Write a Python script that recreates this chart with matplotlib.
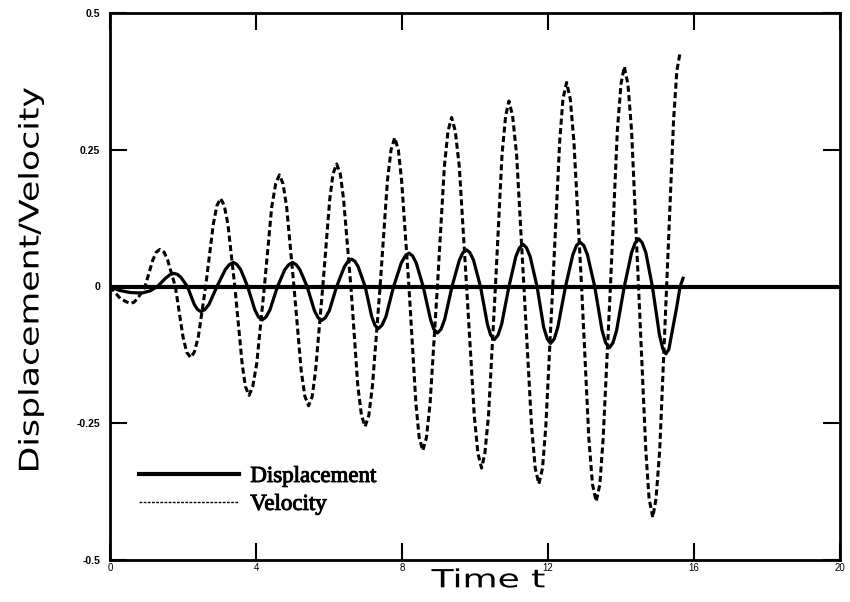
import matplotlib
matplotlib.use('Agg')
import matplotlib.pyplot as plt
import matplotlib.patheffects as pe
from matplotlib.lines import Line2D
from matplotlib.textpath import TextPath
from matplotlib.patches import PathPatch
from matplotlib.font_manager import FontProperties
from matplotlib.transforms import Affine2D, IdentityTransform

plt.rcParams['axes.unicode_minus'] = False

# displacement (extrema, zero crossings, shoulders)
disp_t = [0.00, 0.25, 0.55, 0.87, 1.10, 1.30, 1.52, 1.65, 1.76,
          1.85, 1.94, 2.12, 2.31, 2.40, 2.49,
          2.60, 2.71, 2.93, 3.16, 3.27, 3.38,
          3.48, 3.58, 3.77, 3.97, 4.07, 4.17,
          4.27, 4.38, 4.59, 4.79, 4.90, 5.00,
          5.10, 5.20, 5.40, 5.60, 5.70, 5.80,
          5.90, 6.01, 6.21, 6.42, 6.52, 6.62,
          6.71, 6.80, 6.99, 7.17, 7.26, 7.35,
          7.45, 7.56, 7.77, 7.98, 8.09, 8.19,
          8.29, 8.39, 8.58, 8.78, 8.87, 8.97,
          9.07, 9.17, 9.37, 9.57, 9.67, 9.77,
          9.86, 9.96, 10.15, 10.34, 10.43, 10.53,
          10.63, 10.73, 10.93, 11.12, 11.22, 11.32,
          11.41, 11.51, 11.70, 11.88, 11.98, 12.07,
          12.17, 12.27, 12.48, 12.68, 12.78, 12.88,
          12.98, 13.08, 13.28, 13.48, 13.58, 13.68,
          13.78, 13.88, 14.09, 14.29, 14.39, 14.49,
          14.58, 14.68, 14.86, 15.05, 15.14, 15.23,
          15.31, 15.38, 15.52, 15.62, 15.70]
disp_v = [0.000, -0.007, -0.011, -0.012, -0.008, 0.000, 0.015, 0.022, 0.024,
          0.022, 0.017, 0.000, -0.033, -0.042, -0.046,
          -0.042, -0.033, 0.000, 0.031, 0.040, 0.044,
          0.040, 0.031, 0.000, -0.043, -0.056, -0.061,
          -0.056, -0.043, 0.000, 0.031, 0.040, 0.044,
          0.040, 0.031, 0.000, -0.044, -0.057, -0.062,
          -0.057, -0.044, 0.000, 0.036, 0.046, 0.050,
          0.046, 0.036, 0.000, -0.055, -0.071, -0.077,
          -0.071, -0.055, 0.000, 0.043, 0.056, 0.061,
          0.056, 0.043, 0.000, -0.060, -0.078, -0.085,
          -0.078, -0.060, 0.000, 0.048, 0.062, 0.067,
          0.062, 0.048, 0.000, -0.069, -0.089, -0.097,
          -0.089, -0.069, 0.000, 0.055, 0.071, 0.077,
          0.071, 0.055, 0.000, -0.074, -0.096, -0.104,
          -0.096, -0.074, 0.000, 0.058, 0.075, 0.081,
          0.075, 0.058, 0.000, -0.080, -0.103, -0.112,
          -0.103, -0.080, 0.000, 0.062, 0.080, 0.087,
          0.080, 0.062, 0.000, -0.087, -0.113, -0.123,
          -0.115, -0.090, -0.040, 0.000, 0.015]

# velocity
vel_t = [0.00, 0.28, 0.48, 0.55,
         0.65, 0.76, 0.96, 1.17, 1.27, 1.37,
         1.48, 1.58, 1.79, 2.00, 2.10, 2.21,
         2.31, 2.42, 2.62, 2.83, 2.93, 3.03,
         3.13, 3.23, 3.42, 3.62, 3.71, 3.81,
         3.91, 4.02, 4.23, 4.43, 4.54, 4.64,
         4.74, 4.84, 5.04, 5.24, 5.34, 5.44,
         5.54, 5.63, 5.83, 6.02, 6.11, 6.21,
         6.31, 6.40, 6.60, 6.79, 6.89, 6.99,
         7.09, 7.19, 7.40, 7.60, 7.70, 7.80,
         7.90, 7.99, 8.19, 8.38, 8.47, 8.57,
         8.67, 8.77, 8.97, 9.16, 9.26, 9.36,
         9.46, 9.57, 9.77, 9.98, 10.08, 10.18,
         10.27, 10.37, 10.56, 10.74, 10.84, 10.93,
         11.03, 11.14, 11.34, 11.55, 11.65, 11.75,
         11.85, 11.94, 12.13, 12.32, 12.41, 12.51,
         12.61, 12.71, 12.92, 13.12, 13.22, 13.32,
         13.42, 13.51, 13.71, 13.90, 14.00, 14.09,
         14.19, 14.29, 14.48, 14.68, 14.77, 14.87,
         14.96, 15.06, 15.25, 15.44, 15.53, 15.62]
vel_v = [0.000, -0.022, -0.029, -0.031,
         -0.029, -0.022, 0.000, 0.048, 0.063, 0.068,
         0.063, 0.048, 0.000, -0.092, -0.120, -0.130,
         -0.120, -0.092, 0.000, 0.114, 0.148, 0.161,
         0.148, 0.114, 0.000, -0.141, -0.183, -0.199,
         -0.183, -0.141, 0.000, 0.145, 0.188, 0.204,
         0.188, 0.145, 0.000, -0.155, -0.201, -0.218,
         -0.201, -0.155, 0.000, 0.159, 0.206, 0.224,
         0.206, 0.159, 0.000, -0.182, -0.236, -0.256,
         -0.236, -0.182, 0.000, 0.193, 0.250, 0.272,
         0.250, 0.193, 0.000, -0.213, -0.276, -0.300,
         -0.276, -0.213, 0.000, 0.219, 0.284, 0.309,
         0.284, 0.219, 0.000, -0.236, -0.305, -0.332,
         -0.305, -0.236, 0.000, 0.241, 0.312, 0.339,
         0.312, 0.241, 0.000, -0.256, -0.332, -0.361,
         -0.332, -0.256, 0.000, 0.265, 0.343, 0.373,
         0.343, 0.265, 0.000, -0.279, -0.362, -0.393,
         -0.362, -0.279, 0.000, 0.285, 0.370, 0.402,
         0.370, 0.285, 0.000, -0.300, -0.388, -0.422,
         -0.388, -0.300, 0.000, 0.304, 0.394, 0.428]

x_ticks = [0, 4, 8, 12, 16, 20]
y_ticks = [-0.5, -0.25, 0, 0.25, 0.5]
y_labels = ['-0.5', '-0.25', '0', '0.25', '0.5']


def wide_text(fig, s, cx, cy, em, width, angle=0):
    # the original lettering is an extended sans, so stretch a text path
    tp = TextPath((0, 0), s, size=em, prop=FontProperties(family='DejaVu Sans'))
    bb = tp.get_extents()
    tr = (Affine2D().translate(-(bb.x0 + bb.x1) / 2, -(bb.y0 + bb.y1) / 2)
          .scale(width / bb.width, 1).rotate_deg(angle).translate(cx, cy))
    fig.add_artist(PathPatch(tr.transform_path(tp), fc='black', lw=0,
                             transform=IdentityTransform()))


fig = plt.figure(figsize=(8.5, 6.02), dpi=100)
ax = fig.add_axes([110 / 850, 42 / 602, 730 / 850, 547 / 602])

ax.axhline(0, color='black', lw=3)
ax.plot(disp_t, disp_v, color='black', lw=2.3, solid_joinstyle='round')
ax.plot(vel_t, vel_v, color='black', lw=2.2, ls=(0, (2.0, 1.1)))

ax.set_xlim(0, 20)
ax.set_ylim(-0.5, 0.5)
ax.set_xticks(x_ticks)
ax.set_xticklabels([str(v) for v in x_ticks], fontsize=7, family='Liberation Sans')
ax.set_yticks(y_ticks)
ax.set_yticklabels(y_labels, fontsize=7.5, family='Liberation Sans', fontweight='bold')
ax.tick_params(direction='in', length=12, width=1.5, top=True, right=True)
ax.tick_params(axis='x', pad=2)
ax.tick_params(axis='y', pad=7)
for sp in ax.spines.values():
    sp.set_linewidth(2)

handles = [Line2D([], [], color='black', lw=3),
           Line2D([], [], color='black', lw=1, ls=(0, (2, 1)))]
leg = ax.legend(handles, ['Displacement', 'Velocity'], loc='upper left',
                bbox_to_anchor=(0.040, 0.172), frameon=False, borderpad=0,
                borderaxespad=0, handlelength=4.35, handletextpad=0.5,
                labelspacing=0.3, prop={'family': 'Liberation Serif', 'size': 16.5})
for txt in leg.get_texts():
    txt.set_path_effects([pe.withStroke(linewidth=0.7, foreground='black')])

wide_text(fig, 'Time t', 488, 24, 25, 113)
wide_text(fig, 'Displacement/Velocity', 31, 323, 27, 382, angle=90)

fig.savefig('out.png', dpi=100)
